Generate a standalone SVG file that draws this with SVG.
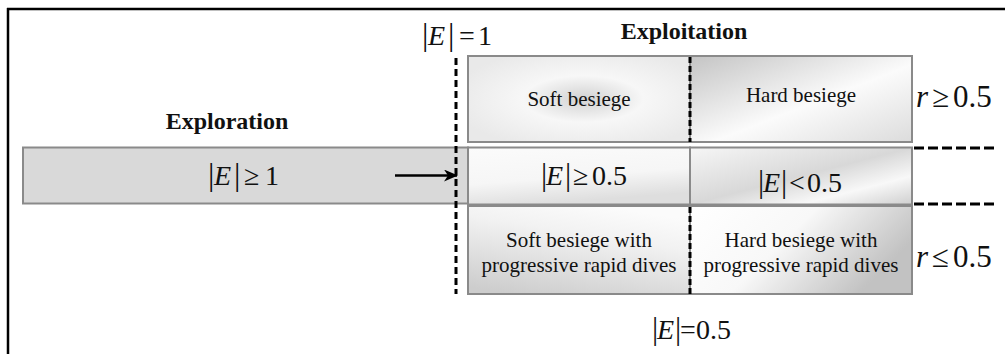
<svg xmlns="http://www.w3.org/2000/svg" width="1005" height="354" viewBox="0 0 1005 354">
<style>
.t{font-family:"Liberation Serif","Times New Roman",serif;fill:#111;}
.b{font-weight:bold;font-size:24px;}
.n{font-size:21px;}
.m{font-size:28px;}
.i{font-style:italic;}
.box{stroke:#8a8a8a;stroke-width:2;}
.dash{stroke:#000;stroke-width:3;fill:none;}
</style>
<defs>
<radialGradient id="gSoft" cx="0.52" cy="0.5" r="0.6">
<stop offset="0" stop-color="#d2d2d2"/>
<stop offset="0.45" stop-color="#f7f7f7"/>
<stop offset="1" stop-color="#e9e9e9"/>
</radialGradient>
<linearGradient id="gHard" x1="0" y1="0" x2="1" y2="1">
<stop offset="0" stop-color="#c4c4c4"/>
<stop offset="0.55" stop-color="#fbfbfb"/>
<stop offset="1" stop-color="#dcdcdc"/>
</linearGradient>
<linearGradient id="gMidL" x1="0" y1="0" x2="0.3" y2="1">
<stop offset="0" stop-color="#fbfbfb"/>
<stop offset="0.6" stop-color="#f6f6f6"/>
<stop offset="1" stop-color="#dedede"/>
</linearGradient>
<linearGradient id="gMidR" x1="0" y1="0" x2="1" y2="1">
<stop offset="0" stop-color="#f6f6f6"/>
<stop offset="0.5" stop-color="#d8d8d8"/>
<stop offset="0.75" stop-color="#f8f8f8"/>
<stop offset="1" stop-color="#cfcfcf"/>
</linearGradient>
<linearGradient id="gBotL" x1="0.2" y1="1" x2="0.6" y2="0">
<stop offset="0" stop-color="#cdcdcd"/>
<stop offset="0.7" stop-color="#f2f2f2"/>
<stop offset="1" stop-color="#fbfbfb"/>
</linearGradient>
<linearGradient id="gBotR" x1="0" y1="0" x2="1" y2="0.4">
<stop offset="0" stop-color="#ffffff"/>
<stop offset="0.5" stop-color="#f8f8f8"/>
<stop offset="1" stop-color="#c2c2c2"/>
</linearGradient>
<marker id="arr" markerWidth="14" markerHeight="12" refX="13" refY="6" orient="auto" markerUnits="userSpaceOnUse">
<path d="M0,0 L14,6 L0,12 L4,6 Z" fill="#000"/>
</marker>
</defs>

<g id="frame">
<line x1="7" y1="9" x2="1005" y2="9" stroke="#000" stroke-width="2.5"/>
<line x1="8" y1="8" x2="8" y2="354" stroke="#000" stroke-width="2.5"/>
</g>

<g id="exploration">
<rect x="23" y="147.5" width="445" height="56" fill="#d9d9d9" class="box"/>
<text class="t b" x="227" y="129" text-anchor="middle">Exploration</text>
<text class="t m" y="185"><tspan x="208" font-size="32">|</tspan><tspan class="i" x="214">E</tspan><tspan x="234" font-size="32">|</tspan><tspan x="244">≥</tspan><tspan x="265">1</tspan></text>
</g>

<g id="exploitation-label">
<text class="t b" x="684" y="39" text-anchor="middle" font-size="23">Exploitation</text>
</g>

<g id="soft-besiege">
<rect x="468" y="56" width="222" height="86" fill="url(#gSoft)" class="box"/>
<text class="t n" x="579" y="106" text-anchor="middle">Soft besiege</text>
</g>

<g id="hard-besiege">
<rect x="690" y="56" width="222" height="86" fill="url(#gHard)" class="box"/>
<text class="t n" x="801" y="102" text-anchor="middle">Hard besiege</text>
</g>

<g id="e-ge-05">
<rect x="468" y="147.5" width="222" height="57" fill="url(#gMidL)" class="box"/>
<text class="t m" y="185"><tspan x="541" font-size="31">|</tspan><tspan class="i" x="546">E</tspan><tspan x="565" font-size="31">|</tspan><tspan x="573">≥</tspan><tspan x="592">0.5</tspan></text>
</g>

<g id="e-lt-05">
<rect x="690" y="147.5" width="222" height="57" fill="url(#gMidR)" class="box"/>
<text class="t m" y="192"><tspan x="758" font-size="31">|</tspan><tspan class="i" x="763">E</tspan><tspan x="781" font-size="31">|</tspan><tspan x="789">&lt;</tspan><tspan x="807">0.5</tspan></text>
</g>

<g id="soft-dives">
<rect x="468" y="206" width="222" height="88" fill="url(#gBotL)" class="box"/>
<text class="t n" text-anchor="middle"><tspan x="579" y="247">Soft besiege with</tspan><tspan x="579" y="272">progressive rapid dives</tspan></text>
</g>

<g id="hard-dives">
<rect x="690" y="206" width="222" height="88" fill="url(#gBotR)" class="box"/>
<text class="t n" text-anchor="middle"><tspan x="801" y="247">Hard besiege with</tspan><tspan x="801" y="272">progressive rapid dives</tspan></text>
</g>

<g id="labels">
<text class="t m" y="45"><tspan x="422" font-size="32">|</tspan><tspan class="i" x="428">E</tspan><tspan x="448" font-size="32">|</tspan><tspan x="459">=</tspan><tspan x="478">1</tspan></text>
<text class="t m" y="339"><tspan x="652" font-size="31">|</tspan><tspan class="i" x="657">E</tspan><tspan x="675" font-size="31">|</tspan><tspan x="680">=</tspan><tspan x="696">0.5</tspan></text>
<text class="t" font-size="31" y="107"><tspan class="i" x="916">r</tspan><tspan x="932">≥</tspan><tspan x="953">0.5</tspan></text>
<text class="t" font-size="31" y="267"><tspan class="i" x="916">r</tspan><tspan x="932">≤</tspan><tspan x="953">0.5</tspan></text>
</g>

<g id="connectors">
<line class="dash" x1="456" y1="58" x2="456" y2="294" stroke-dasharray="7,4"/>
<line class="dash" x1="690" y1="57" x2="690" y2="142" stroke-width="2.5" stroke-dasharray="6,3"/>
<line class="dash" x1="690" y1="207" x2="690" y2="294" stroke-width="2.5" stroke-dasharray="6,3"/>
<line x1="690" y1="148" x2="690" y2="204" stroke="#8a8a8a" stroke-width="2"/>
<line class="dash" x1="914" y1="148" x2="996" y2="148" stroke-dasharray="10,4"/>
<line class="dash" x1="914" y1="204" x2="996" y2="204" stroke-dasharray="10,4"/>
<line x1="395" y1="175.5" x2="457" y2="175.5" stroke="#000" stroke-width="2.5" marker-end="url(#arr)"/>
</g>
</svg>
